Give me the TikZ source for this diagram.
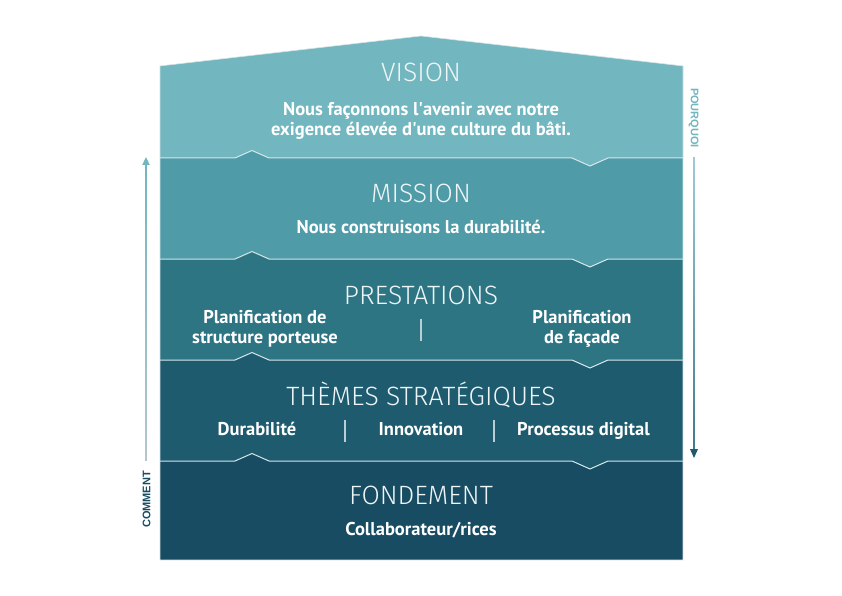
\documentclass[tikz,border=0pt]{standalone}
\usepackage{fontspec}
\setmainfont{PT Sans}
\newfontfamily\titlefont{Fira Sans}[UprightFont={* Light}]
\newfontfamily\sidefont{Liberation Sans}
\usetikzlibrary{arrows.meta,calc}
\definecolor{cvision}{HTML}{72B6BF}
\definecolor{cmission}{HTML}{4F9BA7}
\definecolor{cprest}{HTML}{2E7584}
\definecolor{ctheme}{HTML}{1E5B6F}
\definecolor{cfond}{HTML}{184C62}
\definecolor{csep}{HTML}{D6E7EA}
\definecolor{cbar}{HTML}{B9CFD5}
\definecolor{ctitle}{HTML}{EEF5F6}
\tikzset{
  title/.style={anchor=base,inner sep=0pt,text=ctitle,font=\titlefont\fontsize{26.5}{30}\selectfont},
  body/.style={anchor=base,inner sep=0pt,text=white,font=\bfseries\fontsize{18.5}{22}\selectfont},
  bar/.style={draw=cbar,line width=1.2pt},
  seam/.style={draw=csep,line width=1pt},
  side/.style={inner sep=0pt,font=\sidefont\bfseries\fontsize{11}{13}\selectfont}
}
\newcommand{\seamat}[3]{% y, upper colour, lower colour
  \fill[#3] (235,#1) -- (252,#1-7.5) -- (269,#1) -- cycle;
  \fill[#2] (572,#1) -- (590,#1+8) -- (608,#1) -- cycle;
  \draw[seam] (160,#1) -- (235,#1) -- (252,#1-7.5) -- (269,#1) -- (572,#1) -- (590,#1+8) -- (608,#1) -- (683,#1);
}
\begin{document}
\begin{tikzpicture}[x=1pt,y=-1pt]
\useasboundingbox (0,0) rectangle (842,596);
\fill[white] (0,0) rectangle (842,596);
% bands
\fill[cvision] (160,66) -- (421,36) -- (683,66) -- (683,158) -- (160,158) -- cycle;
\fill[cmission] (160,158) rectangle (683,259);
\fill[cprest] (160,259) rectangle (683,360);
\fill[ctheme] (160,360) rectangle (683,461);
\fill[cfond] (160,461) rectangle (683,560);
\seamat{158}{cvision}{cmission}
\seamat{259}{cmission}{cprest}
\seamat{360}{cprest}{ctheme}
\seamat{461}{ctheme}{cfond}
\draw[draw=cbar!60,line width=0.6pt] (160,66) -- (421,36) -- (683,66) -- (683,560) -- (160,560) -- cycle;
% titles
\node[title] (tvision) at (421,82) {VISION};
\node[title] (tmission) at (421,202) {MISSION};
\node[title] (tprest) at (421,304) {PRESTATIONS};
\node[title] (ttheme) at (421,405) {THÈMES STRATÉGIQUES};
\node[title] (tfond) at (421,504) {FONDEMENT};
% body texts
\node[body] (v1) at (421,116) {Nous façonnons l\textquotesingle avenir avec notre};
\node[body] (v2) at (421,135.5) {exigence élevée d\textquotesingle une culture du bâti.};
\node[body] (m1) at (421,233) {Nous construisons la durabilité.};
\node[body] (p1) at (265,323) {Planification de};
\node[body] (p2) at (265,343) {structure porteuse};
\node[body] (p3) at (582,323) {Planification};
\node[body] (p4) at (582,343) {de façade};
\node[body] (s1) at (257,435) {Durabilité};
\node[body] (s2) at (421,435) {Innovation};
\node[body] (s3) at (583.5,435) {Processus digital};
\node[body] (f1) at (421,535) {Collaborateur/rices};
% separators
\coordinate (b1t) at (421,319); \coordinate (b1b) at (421,341);
\coordinate (b2t) at (345,420); \coordinate (b2b) at (345,442);
\coordinate (b3t) at (494,420); \coordinate (b3b) at (494,442);
\draw[bar] (b1t) -- (b1b);
\draw[bar] (b2t) -- (b2b);
\draw[bar] (b3t) -- (b3b);
% side labels
\node[side,text=cvision,rotate=-90] (pourquoi) at (693.5,118) {POURQUOI};
\node[side,text=cfond,rotate=90] (comment) at (146.5,499.5) {COMMENT};
% arrows
\coordinate (la0) at (146,460); \coordinate (la1) at (146,165); \coordinate (lat) at (146,157);
\shade[top color=cvision,bottom color=cbar!90!gray] ($(la1)+(-0.8,0)$) rectangle ($(la0)+(0.8,0)$);
\fill[cvision] (lat) -- ($(la1)+(-3.8,0)$) -- ($(la1)+(3.8,0)$) -- cycle;
\coordinate (ra0) at (694,158); \coordinate (ra1) at (694,449); \coordinate (rat) at (694,458);
\shade[top color=cvision!70!white,bottom color=cmission!80!black] ($(ra0)+(-0.8,0)$) rectangle ($(ra1)+(0.8,0)$);
\fill[ctheme] (rat) -- ($(ra1)+(-4,0)$) -- ($(ra1)+(4,0)$) -- cycle;
\end{tikzpicture}
\end{document}
